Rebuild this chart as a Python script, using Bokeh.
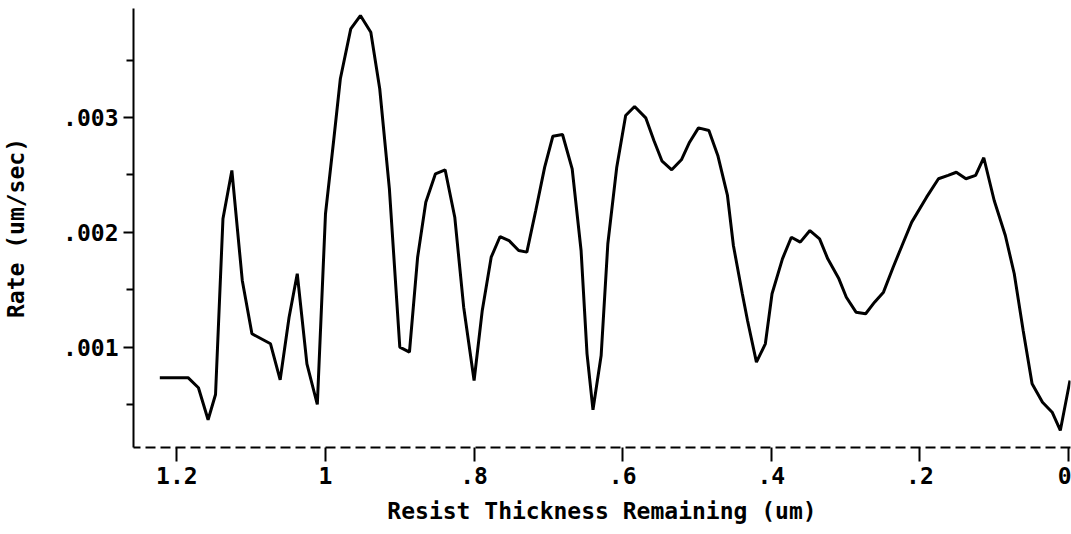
from bokeh.plotting import figure
from bokeh.models import Range1d, FixedTicker, CustomJSTickFormatter
from bokeh.embed import file_html
from bokeh.resources import INLINE

# Resist thickness remaining (um) and development rate (um/sec)
thickness = [1.223, 1.185, 1.171, 1.158, 1.148, 1.138, 1.126, 1.112, 1.099, 1.074,
             1.061, 1.049, 1.038, 1.025, 1.011, 1.000, 0.989, 0.980, 0.966, 0.953,
             0.939, 0.927, 0.914, 0.900, 0.887, 0.876, 0.865, 0.852, 0.839, 0.826,
             0.814, 0.800, 0.789, 0.777, 0.765, 0.753, 0.740, 0.729, 0.717, 0.705,
             0.694, 0.681, 0.668, 0.656, 0.648, 0.640, 0.629, 0.620, 0.608, 0.596,
             0.584, 0.569, 0.558, 0.547, 0.534, 0.521, 0.510, 0.498, 0.484, 0.472,
             0.459, 0.451, 0.439, 0.432, 0.420, 0.408, 0.399, 0.385, 0.373, 0.361,
             0.348, 0.335, 0.324, 0.309, 0.299, 0.286, 0.273, 0.261, 0.249, 0.236,
             0.224, 0.211, 0.191, 0.175, 0.162, 0.151, 0.138, 0.125, 0.114, 0.100,
             0.085, 0.073, 0.061, 0.049, 0.035, 0.022, 0.011, -0.002]
rate = [0.000737, 0.000737, 0.000650, 0.000371, 0.000591, 0.002119, 0.002539, 0.001583, 0.001119, 0.001032,
        0.000719, 0.001263, 0.001641, 0.000858, 0.000504, 0.002163, 0.002800, 0.003337, 0.003771, 0.003887,
        0.003742, 0.003250, 0.002380, 0.001003, 0.000959, 0.001785, 0.002263, 0.002510, 0.002545, 0.002133,
        0.001350, 0.000713, 0.001322, 0.001785, 0.001965, 0.001930, 0.001843, 0.001829, 0.002191, 0.002568,
        0.002837, 0.002852, 0.002554, 0.001843, 0.000945, 0.000458, 0.000930, 0.001902, 0.002568, 0.003017,
        0.003096, 0.002997, 0.002800, 0.002620, 0.002545, 0.002632, 0.002785, 0.002910, 0.002887, 0.002670,
        0.002322, 0.001887, 0.001467, 0.001235, 0.000872, 0.001032, 0.001467, 0.001771, 0.001959, 0.001916,
        0.002017, 0.001945, 0.001771, 0.001597, 0.001437, 0.001307, 0.001293, 0.001394, 0.001481, 0.001698,
        0.001887, 0.002090, 0.002307, 0.002467, 0.002496, 0.002524, 0.002467, 0.002496, 0.002650, 0.002278,
        0.001974, 0.001641, 0.001148, 0.000684, 0.000524, 0.000437, 0.000278, 0.000713]

x_ticks = [0.0, 0.2, 0.4, 0.6, 0.8, 1.0, 1.2]
y_ticks = [0.001, 0.002, 0.003]
y_minor_ticks = [0.0005, 0.0015, 0.0025, 0.0035]

x_title = "Resist Thickness Remaining (um)"
y_title = "Rate (um/sec)"

FONT = "DejaVu Sans Mono"
FSIZE = "23px"

p = figure(width=1071, height=534, output_backend="svg", toolbar_location=None,
           x_range=Range1d(1.2584, -0.0027), y_range=Range1d(0.00013, 0.003948),
           min_border_left=133, min_border_right=1, min_border_top=8, min_border_bottom=87,
           background_fill_color="white", border_fill_color="white")

p.line(thickness, rate, line_color="black", line_width=3)

p.xgrid.visible = False
p.ygrid.visible = False
p.outline_line_color = None

xa = p.xaxis[0]
xa.ticker = FixedTicker(ticks=x_ticks, minor_ticks=[])
xa.formatter = CustomJSTickFormatter(code="""
if (Math.abs(tick) < 1e-9) return "0";
let s = tick.toFixed(1);
if (s.endsWith(".0")) s = s.slice(0, -2);
if (s.startsWith("0")) s = s.slice(1);
return s;
""")
xa.axis_label = x_title
xa.axis_line_width = 2
xa.axis_line_dash = "10 5"
xa.major_tick_line_width = 2
xa.major_tick_out = 14
xa.major_tick_in = 0
xa.major_label_standoff = 5
xa.axis_label_standoff = 11

ya = p.yaxis[0]
ya.ticker = FixedTicker(ticks=y_ticks, minor_ticks=y_minor_ticks)
ya.formatter = CustomJSTickFormatter(code="return tick.toFixed(3).replace(/^0/, '');")
ya.axis_label = y_title
ya.axis_line_width = 2
ya.major_tick_line_width = 2
ya.major_tick_out = 10
ya.major_tick_in = 0
ya.minor_tick_line_width = 2
ya.minor_tick_out = 7
ya.minor_tick_in = 0
ya.major_label_standoff = 5
ya.axis_label_standoff = 31

for ax in (xa, ya):
    ax.axis_line_color = "black"
    ax.major_tick_line_color = "black"
    ax.minor_tick_line_color = "black"
    ax.major_label_text_font = FONT
    ax.major_label_text_font_style = "bold"
    ax.major_label_text_font_size = FSIZE
    ax.major_label_text_color = "black"
    ax.axis_label_text_font = FONT
    ax.axis_label_text_font_style = "bold"
    ax.axis_label_text_font_size = FSIZE
    ax.axis_label_text_color = "black"

open("out.html", "w").write(file_html(p, INLINE))
